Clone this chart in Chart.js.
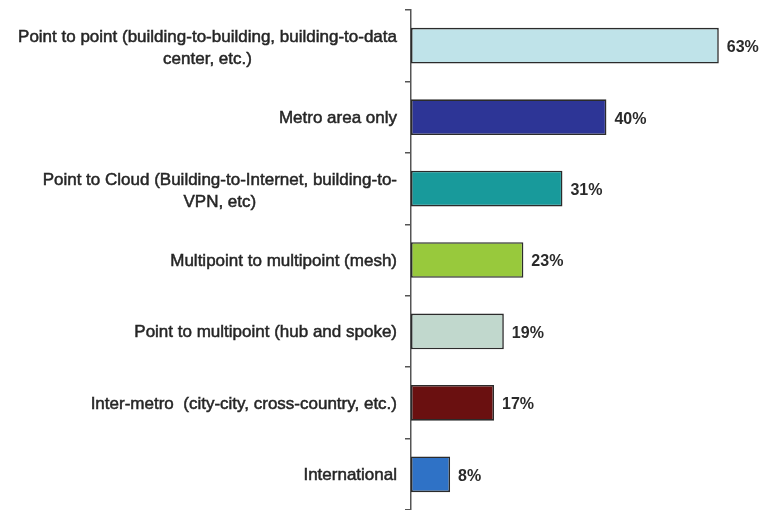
<!DOCTYPE html>
<html>
<head>
<meta charset="utf-8">
<script src="https://cdn.jsdelivr.net/npm/chart.js@4.4.1/dist/chart.umd.min.js"></script>
<style>
  html, body { margin: 0; padding: 0; background: #fff; }
  #wrap { width: 765px; height: 510px; }
</style>
</head>
<body>
<div id="wrap"><canvas id="chart"></canvas></div>
<script>
// Connectivity types, top to bottom
const categories = [
  ['Point to point (building-to-building, building-to-data', 'center, etc.)'],
  ['Metro area only'],
  ['Point to Cloud (Building-to-Internet, building-to-', 'VPN, etc)'],
  ['Multipoint to multipoint (mesh)'],
  ['Point to multipoint (hub and spoke)'],
  ['Inter-metro  (city-city, cross-country, etc.)'],
  ['International']
];
const shares = [63, 40, 31, 23, 19, 17, 8];
const barColors = ['#bfe3e9', '#2d3596', '#189a9b', '#98c93c', '#c1d8cd', '#6a1010', '#2f72c6'];

const labelFont = '17px "Liberation Sans", Arial, sans-serif';
const valueFont = 'bold 16px "Liberation Sans", Arial, sans-serif';

// draws the category labels (centred block, right edge against the ticks)
const catLabels = {
  id: 'catLabels',
  afterDraw(chart) {
    const ctx = chart.ctx;
    const y = chart.scales.y;
    const right = chart.chartArea.left - 14;
    ctx.save();
    ctx.font = labelFont;
    ctx.fillStyle = '#262626';
    ctx.strokeStyle = '#262626';
    ctx.lineWidth = 0.5;
    ctx.textAlign = 'center';
    ctx.textBaseline = 'middle';
    categories.forEach((lines, i) => {
      const cy = y.getPixelForValue(i) + 1;
      const w = Math.max(...lines.map(l => ctx.measureText(l).width));
      const cx = right - w / 2;
      const lh = 22;
      const top = cy - (lines.length - 1) * lh / 2 + (lines.length > 1 ? 2 : 0);
      lines.forEach((l, j) => {
        ctx.fillText(l, cx, top + j * lh);
        ctx.strokeText(l, cx, top + j * lh);
      });
    });
    ctx.restore();
  }
};

// value labels at bar ends
const valueLabels = {
  id: 'valueLabels',
  afterDatasetsDraw(chart) {
    const ctx = chart.ctx;
    const meta = chart.getDatasetMeta(0);
    ctx.save();
    ctx.font = valueFont;
    ctx.fillStyle = '#2a2a2a';
    ctx.textAlign = 'left';
    ctx.textBaseline = 'middle';
    meta.data.forEach((bar, i) => {
      ctx.fillText(shares[i] + '%', bar.x + 8, bar.y + 2);
    });
    ctx.restore();
  }
};

new Chart(document.getElementById('chart').getContext('2d'), {
  type: 'bar',
  data: {
    labels: categories.map(c => c.join(' ')),
    datasets: [{
      data: shares,
      backgroundColor: barColors,
      borderColor: '#2b2b2b',
      borderWidth: 1.6,
      borderSkipped: false,
      barPercentage: 0.5,
      categoryPercentage: 1
    }]
  },
  options: {
    indexAxis: 'y',
    responsive: true,
    maintainAspectRatio: false,
    animation: false,
    layout: { padding: { left: 405, right: 12, top: 10, bottom: 0 } },
    plugins: {
      legend: { display: false },
      tooltip: { enabled: false }
    },
    scales: {
      x: {
        display: false,
        min: 0,
        max: 70
      },
      y: {
        ticks: { display: false },
        grid: {
          offset: true,
          drawOnChartArea: false,
          drawTicks: true,
          tickLength: 6,
          color: '#555',
          lineWidth: 1.5
        },
        border: { display: true, color: '#555', width: 1.5 }
      }
    }
  },
  plugins: [catLabels, valueLabels]
});
</script>
</body>
</html>
